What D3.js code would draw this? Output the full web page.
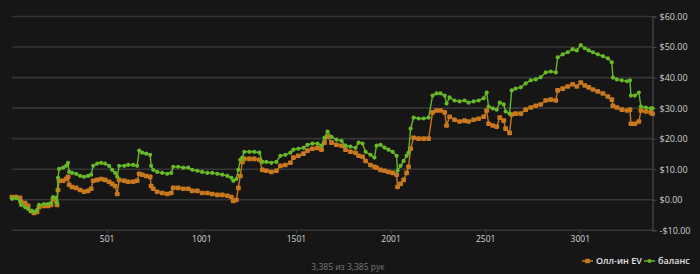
<!DOCTYPE html>
<html>
  <head>
    <meta charset="UTF-8"/>
    <script src="https://d3js.org/d3.v7.min.js"></script>
    <style>
      body{
        margin: 0;
        background-color: #161616;
      }
      svg{
        display: block;
      }
      .tick-label{
        font-family: 'Open Sans', sans-serif;
        fill: #cfcfcf;
      }
    </style>
  </head>
  <body>
    <script>
      // hand numbers (x) shared by both series
      const hands = [1,22,43,49,70,86,102,117,133,144,170,191,207,218,234,239,244,250,271,287,297,
        303,318,340,361,382,403,419,430,451,472,493,514,530,546,557,567,594,615,641,662,673,689,710,
        731,736,747,768,795,821,842,853,879,906,932,953,980,1006,1033,1059,1086,1112,1139,1160,1170,
        1186,1197,1207,1218,1228,1255,1281,1308,1324,1345,1371,1398,1419,1445,1472,1488,1514,1541,
        1562,1588,1615,1636,1652,1668,1689,1715,1742,1763,1789,1816,1832,1853,1869,1895,1916,1927,
        1948,1969,1990,2012,2033,2038,2054,2070,2086,2096,2107,2123,2149,2176,2202,2223,2244,2265,
        2287,2297,2313,2339,2366,2392,2413,2440,2466,2493,2509,2519,2541,2562,2578,2599,2609,2630,
        2641,2662,2689,2715,2742,2768,2794,2821,2847,2874,2884,2911,2937,2963,2985,3006,3027,3048,
        3070,3096,3123,3149,3170,3176,3197,3223,3250,3266,3271,3292,3313,3324,3350,3376,3385];

      const allinEV = [0.9,0.9,0.6,-0.7,-1.1,-2.0,-3.7,-4.3,-4.0,-2.4,-2.0,-2.0,-1.7,0.3,-0.4,-1.7,3.2,
        6.2,6.2,6.8,7.5,4.9,4.2,3.9,3.2,2.6,2.9,3.6,6.2,6.5,6.8,6.5,5.9,5.2,4.5,1.9,6.5,6.2,5.9,5.9,
        6.2,8.5,8.2,7.8,7.5,4.5,3.6,2.6,2.2,1.9,2.2,3.9,3.9,3.6,3.6,2.9,2.9,2.2,2.2,1.9,1.6,1.6,1.3,
        0.9,-0.4,-0.1,3.9,7.8,12.4,13.4,13.4,13.4,13.1,9.8,9.5,9.1,9.5,11.1,11.4,12.1,13.8,14.4,15.1,
        16.1,16.7,17.0,16.4,18.7,20.7,18.7,18.0,17.7,16.4,15.7,15.4,14.4,14.1,12.7,11.4,10.8,10.5,
        9.8,9.5,9.1,8.8,8.2,4.2,5.2,6.5,8.8,10.8,16.7,20.3,20.0,20.0,20.0,28.6,29.2,29.2,28.6,24.3,
        27.2,26.2,25.6,25.9,25.6,26.2,26.5,27.2,29.2,24.9,24.3,23.9,26.9,25.9,23.3,21.9,27.9,28.2,
        28.2,29.5,30.2,30.8,31.2,32.5,32.8,32.5,35.8,36.4,37.1,37.8,37.1,38.4,37.4,36.8,36.1,35.5,
        34.8,33.8,32.8,30.8,30.2,29.5,29.2,29.5,24.9,24.9,25.6,29.2,28.9,28.6,28.2];

      const balance = [0.3,0.6,-0.4,-1.7,-2.4,-3.0,-3.7,-4.0,-3.4,-1.7,-1.4,-1.4,-1.1,0.9,0.6,-1.1,7.2,
        10.1,10.5,11.1,12.1,9.1,8.8,8.5,7.8,7.5,7.8,8.2,11.1,11.8,12.1,11.8,11.1,9.8,8.8,7.5,11.1,11.1,
        11.4,11.4,11.1,16.1,15.4,15.1,14.7,11.1,9.8,9.1,8.8,8.5,8.8,10.8,10.8,10.5,10.5,9.8,9.5,9.1,
        8.8,8.8,8.5,8.2,7.8,7.2,6.2,6.8,9.8,13.1,13.8,15.7,15.7,15.7,15.4,12.4,12.4,12.1,12.4,14.4,
        14.7,15.4,16.4,16.7,17.0,18.0,18.4,18.4,17.7,20.3,22.3,20.6,19.7,19.3,17.7,17.4,17.0,18.7,
        18.4,15.7,14.7,13.8,17.7,18.0,17.1,16.4,15.7,14.4,9.5,11.1,12.7,14.4,15.4,23.3,26.9,26.6,26.6,
        26.9,34.1,34.8,34.8,34.1,31.5,33.5,32.5,32.2,32.5,31.8,32.2,32.5,33.2,35.1,30.5,29.9,29.5,31.8,
        31.2,28.9,28.2,35.8,36.4,36.8,38.1,39.1,39.4,40.1,41.7,42.0,41.7,46.6,47.6,48.3,49.3,48.9,50.6,
        49.6,48.9,48.3,47.6,47.0,46.3,45.0,40.0,39.4,39.1,38.8,39.1,34.1,34.1,35.1,30.5,30.2,29.9,29.9];

      const yTicks = [-10, 0, 10, 20, 30, 40, 50, 60];
      const xTicks = [501, 1001, 1501, 2001, 2501, 3001];
      const seriesNames = ['Олл-ин EV', 'баланс'];
      const seriesColors = ['#c9781d', '#67b927'];
      const totalHands = 3385;

      const width = 700;
      const height = 274;
      const plotLeft = 12, plotRight = 652.5, plotTop = 16.5, plotBottom = 230.3;

      const svg = d3.select('body')
                    .append('svg')
                    .attr('width', width)
                    .attr('height', height);

      const xScale = d3.scaleLinear()
                       .domain([1, totalHands])
                       .range([plotLeft, plotRight]);

      const yScale = d3.scaleLinear()
                       .domain([-10, 60])
                       .range([plotBottom, plotTop]);

      // horizontal grid
      svg.append('g')
         .selectAll('line')
         .data(yTicks)
         .enter()
         .append('line')
         .attr('x1', plotLeft)
         .attr('x2', plotRight)
         .attr('y1', d => yScale(d))
         .attr('y2', d => yScale(d))
         .attr('stroke', '#363636')
         .attr('stroke-width', 1.6);

      const yAxis = d3.axisRight(yScale)
                      .tickValues(yTicks)
                      .tickSize(4)
                      .tickPadding(3)
                      .tickFormat(d => (d < 0 ? '-$' : '$') + Math.abs(d).toFixed(2));

      const yG = svg.append('g')
                    .attr('transform', 'translate(' + plotRight + ',0)')
                    .call(yAxis);
      yG.select('.domain').attr('stroke', '#4a4a4a').attr('stroke-width', 1.2);
      yG.selectAll('.tick line').attr('stroke', '#4a4a4a');
      yG.selectAll('.tick text')
        .attr('class', 'tick-label')
        .style('font-size', '9px')
        .style('fill', '#cfcfcf');

      const xAxis = d3.axisBottom(xScale)
                      .tickValues(xTicks)
                      .tickSize(3)
                      .tickPadding(3)
                      .tickFormat(d => d);

      const xG = svg.append('g')
                    .attr('transform', 'translate(0,' + plotBottom + ')')
                    .call(xAxis);
      xG.select('.domain').remove();
      xG.selectAll('.tick line').attr('stroke', '#4a4a4a');
      xG.selectAll('.tick text')
        .attr('class', 'tick-label')
        .style('font-size', '8.5px')
        .style('fill', '#d6d6d6');

      const series = [allinEV, balance];

      series.forEach((vals, s) => {
        const pts = hands.map((h, i) => [h, vals[i]]);
        const line = d3.line()
                       .x(d => xScale(d[0]))
                       .y(d => yScale(d[1]));

        svg.append('path')
           .datum(pts)
           .attr('d', line)
           .attr('fill', 'none')
           .attr('stroke', seriesColors[s])
           .attr('stroke-width', 1.4);

        if (s == 0) {
          svg.append('g')
             .selectAll('rect')
             .data(pts)
             .enter()
             .append('rect')
             .attr('x', d => xScale(d[0]) - 2.4)
             .attr('y', d => yScale(d[1]) - 2.3)
             .attr('width', 4.8)
             .attr('height', 4.6)
             .attr('rx', 1)
             .attr('fill', seriesColors[s]);
        } else {
          svg.append('g')
             .selectAll('circle')
             .data(pts)
             .enter()
             .append('circle')
             .attr('cx', d => xScale(d[0]))
             .attr('cy', d => yScale(d[1]))
             .attr('r', 2.1)
             .attr('fill', seriesColors[s]);
        }
      });

      // legend
      const legendX = [582, 644];
      const legend = svg.append('g');
      seriesNames.forEach((name, s) => {
        const g = legend.append('g')
                        .attr('transform', 'translate(' + legendX[s] + ',261)');
        g.append('line')
         .attr('x1', 0).attr('x2', 11)
         .attr('y1', 0).attr('y2', 0)
         .attr('stroke', seriesColors[s])
         .attr('stroke-width', 1.5);
        if (s == 0) {
          g.append('rect')
           .attr('x', 3).attr('y', -2.2)
           .attr('width', 5).attr('height', 4.4)
           .attr('rx', 1)
           .attr('fill', seriesColors[s]);
        } else {
          g.append('circle')
           .attr('cx', 5.5).attr('cy', 0).attr('r', 2)
           .attr('fill', seriesColors[s]);
        }
        g.append('text')
         .attr('x', 14)
         .attr('y', 3.2)
         .text(name)
         .style('font-family', "'Open Sans', sans-serif")
         .style('font-size', '9px')
         .style('font-weight', 600)
         .style('fill', '#e0e0e0');
      });

      svg.append('text')
         .attr('x', 348)
         .attr('y', 270)
         .attr('text-anchor', 'middle')
         .text(d3.format(',')(totalHands) + ' из ' + d3.format(',')(totalHands) + ' рук')
         .style('font-family', "'Open Sans', sans-serif")
         .style('font-size', '8.5px')
         .style('fill', '#7a7a7a');
    </script>
  </body>
</html>
